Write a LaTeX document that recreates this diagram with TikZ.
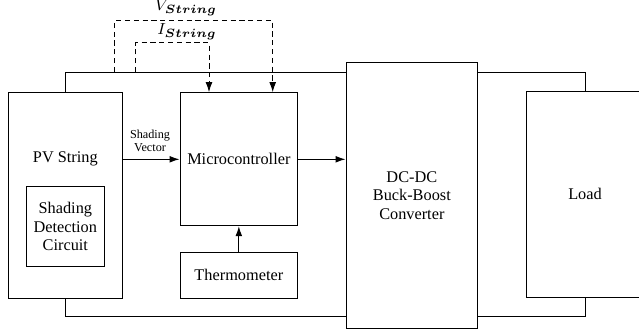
\documentclass[tikz,border=0pt]{standalone}
\usepackage{amsmath}
\usepackage{fontspec}
\setmainfont{Liberation Serif}
\usetikzlibrary{arrows.meta}
\tikzset{
  blk/.style={draw, line width=0.5pt, inner sep=0pt, fill=white},
  wire/.style={line width=0.5pt},
  sig/.style={line width=0.5pt, -{Latex[length=5pt,width=3.4pt]}},
  dsig/.style={line width=0.5pt, dash pattern=on 2.6pt off 1.8pt, -{Latex[length=5pt,width=3.4pt]}},
  txt/.style={font=\fontsize{8.15}{9.3}\selectfont, align=center, inner sep=0pt},
  small/.style={font=\fontsize{6.1}{6.6}\selectfont, align=center, inner sep=0pt},
}
\begin{document}
\begin{tikzpicture}[x=0.5pt,y=-0.5pt]
\useasboundingbox (0,0) rectangle (639,333);
\clip (0,0) rectangle (639,333);
% coordinates of wires
\coordinate (tw) at (0,72);
\coordinate (bw) at (0,316.7);
% boxes
\node[blk, minimum width=56.65pt, minimum height=102.65pt] (pv) at (65.35,195.35) {};
\node[blk, minimum width=38.65pt, minimum height=40pt, txt] (sdc) at (65.35,226.7) {Shading\\Detection\\Circuit};
\node[txt] (pvt) at (65.35,159) {PV String};
\node[blk, minimum width=58.85pt, minimum height=66.5pt, txt] (mc) at (238.85,159.2) {Microcontroller};
\node[blk, minimum width=58.85pt, minimum height=22.85pt, txt] (th) at (238.85,275.15) {Thermometer};
\node[blk, minimum width=65.85pt, minimum height=133.2pt, txt] (dc) at (411.85,195.5) {DC-DC\\Buck-Boost\\Converter};
\node[blk, minimum width=58.7pt, minimum height=103.15pt, txt] (load) at (585,194.15) {Load};
% power wires
\draw[wire] (pv.north) |- (tw -| dc.west);
\draw[wire] (dc.east |- tw) -| (load.north);
\draw[wire] (pv.south) |- (bw -| dc.west);
\draw[wire] (dc.east |- bw) -| (load.south);
% sensing (dashed)
\coordinate (vs) at (114.7,72);
\coordinate (vtop) at (114.7,20.7);
\coordinate (vx) at (272.7,0);
\coordinate (is) at (135.7,72);
\coordinate (itop) at (135.7,42.7);
\coordinate (ix) at (209,0);
\draw[dsig] (vs) -- (vtop) -| (mc.north -| vx);
\draw[dsig] (is) -- (itop) -| (mc.north -| ix);
\node[txt] (vl) at (186,8) {$V_{\boldsymbol{String}}$};
\node[txt] (il) at (187,32) {$I_{\boldsymbol{String}}$};
% signal arrows
\coordinate (sy) at (0,159.3);
\draw[sig] (pv.east |- sy) -- (mc.west |- sy);
\node[small] (sv) at (150,141) {Shading\\Vector};
\draw[sig] (mc.east |- sy) -- (dc.west |- sy);
\draw[sig] (th.north) -- (mc.south);
\end{tikzpicture}
\end{document}
